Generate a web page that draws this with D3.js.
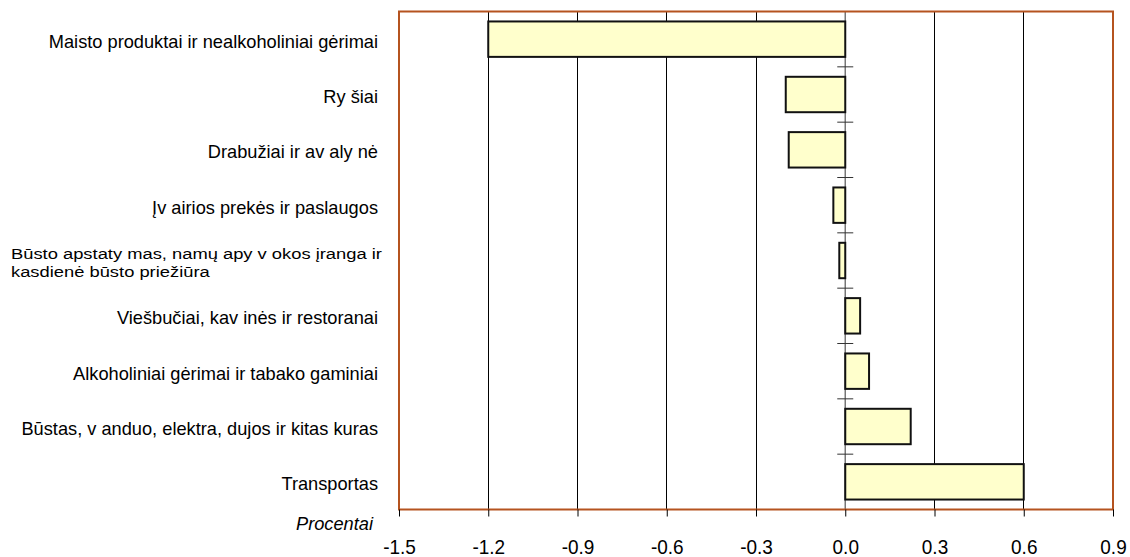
<!DOCTYPE html>
<html>
<head>
<meta charset="utf-8">
<script src="https://cdn.jsdelivr.net/npm/d3@7"></script>
<style>
  body { margin: 0; background: #fff; }
  svg { display: block; font-family: "Liberation Sans", Arial, sans-serif; }
</style>
</head>
<body>
<div id="chart"></div>
<script>
'use strict';

// categories, top to bottom (spacing as rendered in the original)
var categories = [
	["Maisto produktai ir nealkoholiniai gėrimai"],
	["Ry šiai"],
	["Drabužiai ir av aly nė"],
	["Įv airios prekės ir paslaugos"],
	["Būsto apstaty mas, namų apy v okos įranga ir", " kasdienė būsto priežiūra"],
	["Viešbučiai, kav inės ir restoranai"],
	["Alkoholiniai gėrimai ir tabako gaminiai"],
	["Būstas, v anduo, elektra, dujos ir kitas kuras"],
	["Transportas"]
];
var values = [-1.2, -0.2, -0.19, -0.04, -0.02, 0.05, 0.08, 0.22, 0.6];
var xTicks = [-1.5, -1.2, -0.9, -0.6, -0.3, 0.0, 0.3, 0.6, 0.9];
var axisTitle = "Procentai";

var W = 1130, H = 557;
var margin = {top: 11.5, right: 17, bottom: 47.5, left: 399};
var width = W - margin.left - margin.right;
var height = H - margin.top - margin.bottom;

var svg = d3.select("#chart").append("svg")
	.attr("width", W)
	.attr("height", H);
var view = svg.append("g")
	.attr("transform", "translate(" + margin.left + "," + margin.top + ")");

var xScale = d3.scaleLinear().domain([-1.5, 0.9]).range([0, width]);
var yScale = d3.scaleBand()
	.domain(d3.range(categories.length))
	.range([0, height])
	.paddingInner(0.36)
	.paddingOuter(0.18);
var step = yScale.step();
var fmt = function(d) { return d3.format(".1f")(d).replace("\u2212", "-"); };

// vertical grid lines
view.append("g").selectAll("line")
	.data(xTicks.filter(function(t) { return t !== 0 && t !== -1.5 && t !== 0.9; }))
	.enter().append("line")
	.attr("x1", function(d) { return xScale(d); })
	.attr("x2", function(d) { return xScale(d); })
	.attr("y1", 0).attr("y2", height)
	.attr("stroke", "#000").attr("stroke-width", 1)
	.attr("shape-rendering", "crispEdges");

// zero line with category tick marks
var zx = xScale(0);
view.append("line")
	.attr("x1", zx).attr("x2", zx)
	.attr("y1", 0).attr("y2", height)
	.attr("stroke", "#777").attr("stroke-width", 1.5);
view.append("g").selectAll("line")
	.data(d3.range(categories.length))
	.enter().append("line")
	.attr("x1", zx - 8).attr("x2", zx + 8)
	.attr("y1", function(i) { return i * step; })
	.attr("y2", function(i) { return i * step; })
	.attr("stroke", "#333").attr("stroke-width", 1);

// bars
view.append("g").selectAll("rect")
	.data(values)
	.enter().append("rect")
	.attr("x", function(d) { return xScale(Math.min(0, d)); })
	.attr("width", function(d) { return Math.abs(xScale(d) - xScale(0)); })
	.attr("y", function(d, i) { return yScale(i); })
	.attr("height", yScale.bandwidth())
	.attr("fill", "#ffffcc")
	.attr("stroke", "#111")
	.attr("stroke-width", 2);

// frame
view.append("rect")
	.attr("x", 0).attr("y", 0)
	.attr("width", width).attr("height", height)
	.attr("fill", "none")
	.attr("stroke", "#b5531f")
	.attr("stroke-width", 2);

// x axis
var xAxis = d3.axisBottom(xScale)
	.tickValues(xTicks)
	.tickSize(7)
	.tickSizeOuter(0)
	.tickFormat(fmt);
var gx = view.append("g")
	.attr("transform", "translate(0," + height + ")")
	.call(xAxis);
gx.select(".domain").remove();
gx.selectAll(".tick line").attr("stroke", "#000");
gx.selectAll(".tick text").remove();
gx.selectAll(".tick").append("text")
	.attr("fill", "#000")
	.attr("font-size", 20)
	.attr("text-anchor", "middle")
	.attr("transform", "translate(0,44) scale(0.95,1)")
	.text(fmt);

// category labels
var labels = svg.append("g");
categories.forEach(function(lines, i) {
	var cy = margin.top + yScale(i) + yScale.bandwidth() / 2 + 2;
	var lh = 18;
	var multi = lines.length > 1;
	lines.forEach(function(line, j) {
		var y = cy + (j - (lines.length - 1) / 2) * lh;
		labels.append("text")
			.attr("transform", multi
				? "translate(11," + y + ") scale(1.02,0.85)"
				: "translate(378," + y + ") scale(0.96,1)")
			.attr("text-anchor", multi ? "start" : "end")
			.attr("font-size", multi ? 18 : 19)
			.attr("dy", "0.35em")
			.attr("fill", "#000")
			.text(line);
	});
});

// axis title
svg.append("text")
	.attr("transform", "translate(373,530) scale(0.96,1)")
	.attr("text-anchor", "end")
	.attr("font-size", 19)
	.attr("font-style", "italic")
	.attr("fill", "#000")
	.text(axisTitle);
</script>
</body>
</html>
